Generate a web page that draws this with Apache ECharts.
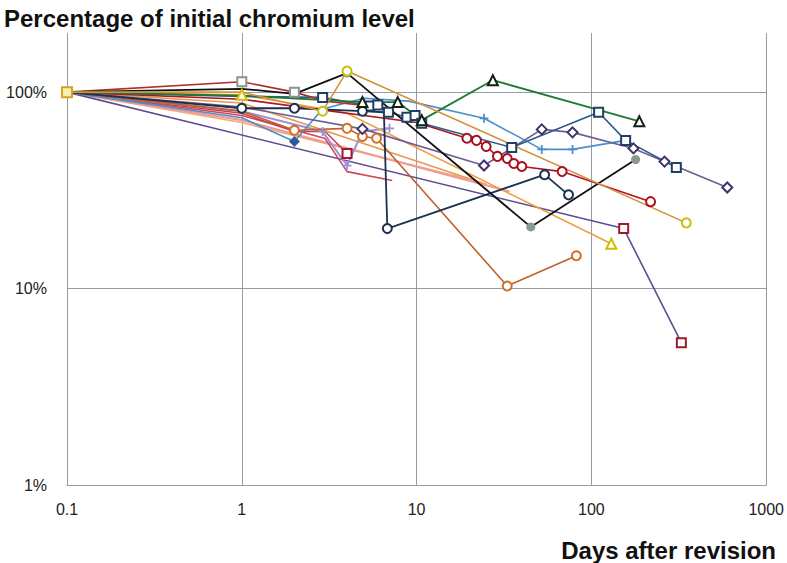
<!DOCTYPE html>
<html><head><meta charset="utf-8">
<script src="https://cdn.jsdelivr.net/npm/echarts@6/dist/echarts.min.js"></script>
<style>html,body{margin:0;padding:0;background:#fff}#c{width:787px;height:563px}</style>
</head><body><div id="c"></div>
<script>
// ---- data (days after revision, % of initial chromium) ----
const xTicks = [0.1, 1, 10, 100, 1000];
const yTicks = [1, 10, 100];
const titleText = 'Percentage of initial chromium level';
const xAxisTitle = 'Days after revision';

const greenTriangle = [[0.1,100],[1,96],[4.9,89],[7.8,89],[10.7,72],[27.3,115],[188,71]];
const blackGrayDot  = [[0.1,100],[1,104],[2,98],[4,125],[45,20.6],[179,45.4]];
const navyCircle    = [[0.1,100],[1,82.8],[2,82.8],[4.9,80],[6.5,79],[6.8,20.2],[54,38],[74,30]];
const blueSquare    = [[0.1,100],[1,95],[2.9,94],[5.4,85],[6,86],[6.9,79],[8.8,74.5],[9.8,76],[10.7,69.4],[35,52.3],[110,79],[157,56.8],[306,41.3]];
const slateDiamond  = [[0.1,100],[1,84],[4.9,65],[24.3,42.3],[52,64.6],[78,62.4],[174,51.7],[262,44.3],[599,32.7]];
const crimsonCircle = [[0.1,100],[1,92],[10,70],[19.4,58.2],[22,56.8],[25,52.9],[29,47.1],[33,45.9],[36,43.3],[40,41.8],[68,39.4],[218,27.7]];
const yellowCircle  = [[0.1,100],[1,100],[2.9,80],[4,128],[349,21.6]];
const yellowTriangle= [[0.1,100],[1,97],[4,78],[130,16.9]];
const orangeCircle  = [[0.1,100],[1,80],[2,64],[4,65.4],[4.9,59.5],[5.9,58.2],[33,10.3],[82,14.7]];
const lightBluePlus = [[0.1,100],[1,74],[2,56],[2.9,82],[5,93],[9,90],[24.3,73.6],[52,51.1],[78,51.1],[157,56.8]];
const lavenderPlus  = [[0.1,100],[1,80],[2.9,63],[4,42.3],[4.9,63],[7,65.4]];
const redSquare     = [[0.1,100],[1,78],[2,63],[3,63],[4,48.7]];
const redLine       = [[0.1,100],[1,76],[3,58],[4,39.4],[7.25,35.5]];
const purpleLong    = [[0.1,100],[153,20.2],[327,5.3]];
const salmonLine    = [[0.1,100],[1,72],[34,31.2]];
const orangeLineA   = [[0.1,100],[1,88],[25,34]];
const orangeLineB   = [[0.1,100],[1,70],[20,36]];
const whiteSquare   = [[0.1,100],[1,113],[2,100],[3,90],[6,84]];

// ---- styling / series assembly ----
const PLUS = 'path://M4,0h2v4h4v2h-4v4h-2v-4h-4v-2h4z';
function mk(data, cfg) {
  const d = data.map((p, i) => {
    const it = { value: p };
    const sym = cfg.symbols ? cfg.symbols[i] : null;
    if (!sym) { it.symbol = 'none'; }
    else {
      it.symbol = sym.s;
      it.symbolSize = sym.size || 9;
      it.itemStyle = { color: sym.fill || '#fff', borderColor: sym.stroke, borderWidth: sym.bw === undefined ? 2 : sym.bw };
    }
    return it;
  });
  return {
    type: 'line', data: d, showAllSymbol: true, z: cfg.z || 2,
    lineStyle: { color: cfg.color, width: cfg.width || 1.6 },
    itemStyle: { color: cfg.color },
    emphasis: { disabled: true }
  };
}
function at(n, idxs, sym) { const a = new Array(n).fill(null); idxs.forEach(i => a[i] = sym); return a; }

const tri = c => ({ s: 'triangle', stroke: c, size: 10 });
const circ = c => ({ s: 'circle', stroke: c, size: 9 });
const sq = c => ({ s: 'rect', stroke: c, size: 9 });
const dia = c => ({ s: 'diamond', stroke: c, size: 10 });
const plus = c => ({ s: PLUS, stroke: c, fill: c, size: 9, bw: 0 });

const series = [
  mk(orangeLineB, { color: '#f2aa78' }),
  mk(orangeLineA, { color: '#e89a50' }),
  mk(salmonLine, { color: '#ef9a92', width: 2.2 }),
  mk(purpleLong, { color: '#5d4d90', symbols: at(3, [1, 2], sq('#a0182a')) }),
  mk(redLine, { color: '#d04858' }),
  mk(redSquare, { color: '#c84050', symbols: at(5, [4], sq('#a8142a')) }),
  mk(lavenderPlus, { color: '#9d8fd8', width: 2, symbols: at(6, [2, 3, 5], plus('#9d8fd8')) }),
  mk(lightBluePlus, { color: '#4a8fcc', symbols: (() => { const a = at(10, [6, 7, 8], plus('#4a8fcc')); a[2] = { s: 'diamond', stroke: '#2f5a9a', fill: '#2f5a9a', size: 11, bw: 0 }; return a; })() }),
  mk(orangeCircle, { color: '#c0602a', symbols: at(8, [2, 3, 4, 5, 6, 7], circ('#d07028')) }),
  mk(yellowTriangle, { color: '#f0a040', symbols: at(4, [1, 3], tri('#cfc000')) }),
  mk(crimsonCircle, { color: '#b01525', symbols: at(12, [3, 4, 5, 6, 7, 8, 9, 10, 11], circ('#a81020')) }),
  mk(slateDiamond, { color: '#6c5f96', symbols: at(9, [2, 3, 4, 5, 6, 7, 8], dia('#3e3468')) }),
  mk(blueSquare, { color: '#2d5b8a', symbols: at(14, [2, 3, 4, 5, 6, 7, 8, 9, 10, 11, 12], sq('#1f3f66')) }),
  mk(navyCircle, { color: '#1c3050', width: 1.8, symbols: at(8, [1, 2, 3, 5, 6, 7], circ('#1c3050')) }),
  mk(whiteSquare, { color: '#b03030', symbols: at(5, [1, 2], sq('#909090')) }),
  mk(blackGrayDot, { color: '#111111', width: 1.8, symbols: at(6, [2, 3, 4, 5], null).map((v, i) => i >= 3 ? { s: 'circle', stroke: '#8a9a8a', fill: '#8a9a8a', size: 9, bw: 0 } : null) }),
  mk(greenTriangle, { color: '#1f7a30', width: 1.8, symbols: at(7, [2, 3, 4, 5, 6], tri('#112211')) }),
  mk(yellowCircle, { color: '#d8903a', symbols: (() => { const a = at(5, [2, 3, 4], circ('#c8c010')); a[0] = { s: 'rect', stroke: '#d8a020', fill: '#f4f0b0', size: 10 }; return a; })() })
];

const gridColor = '#939daa';
const chart = echarts.init(document.getElementById('c'), null, { renderer: 'svg' });
chart.setOption({
  animation: false,
  backgroundColor: '#fff',
  grid: { left: 67, right: 19, top: 33, bottom: 78, containLabel: false },
  title: [
    { text: titleText, left: -1, top: 1, textStyle: { fontFamily: 'Liberation Sans', fontSize: 24, fontWeight: 'bold', color: '#111' } },
    { text: xAxisTitle, right: 6, top: 533, textStyle: { fontFamily: 'Liberation Sans', fontSize: 24, fontWeight: 'bold', color: '#111' } }
  ],
  xAxis: {
    type: 'log', logBase: 10, min: xTicks[0], max: xTicks[xTicks.length - 1],
    axisLine: { show: true, lineStyle: { color: gridColor, width: 1 } },
    axisTick: { show: false },
    splitLine: { show: true, lineStyle: { color: gridColor, width: 1 } },
    axisLabel: { margin: 16, fontFamily: 'Liberation Sans', fontSize: 16, color: '#222',
      formatter: v => { const r = xTicks.find(t => Math.abs(t - v) / t < 1e-6); return r === undefined ? '' : String(r); } }
  },
  yAxis: {
    type: 'log', logBase: 10, min: yTicks[0], max: 200,
    axisLine: { show: false },
    axisTick: { show: false },
    splitLine: { show: true, showMaxLine: false, lineStyle: { color: gridColor, width: 1 } },
    axisLabel: { margin: 20, showMaxLabel: false, fontFamily: 'Liberation Sans', fontSize: 16, color: '#222',
      formatter: v => { const r = yTicks.find(t => Math.abs(t - v) / t < 1e-6); return r === undefined ? '' : r + '%'; } }
  },
  series: series
});
</script></body></html>
